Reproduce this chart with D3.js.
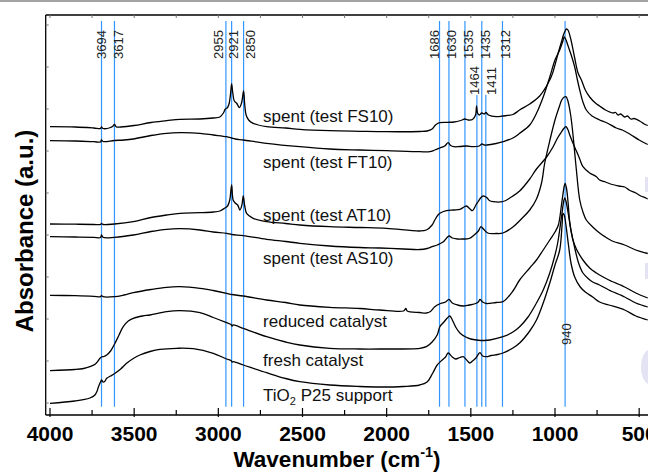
<!DOCTYPE html>
<html lang="en">
<head>
<meta charset="UTF-8">
<title>FTIR spectra</title>
<style>
  body { margin: 0; padding: 0; background: #fff; }
  svg { display: block; font-family: 'Liberation Sans', Arial, sans-serif; }
  .spec { fill: none; stroke: #000; stroke-width: 1.3px; stroke-linejoin: round; }
  .band { stroke: #3396ff; stroke-width: 1.2px; }
  .band-label { font-size: 13px; fill: #222; }
  .spec-label { font-size: 17px; fill: #111; }
  .tick-label { font-size: 21px; font-weight: bold; fill: #000; }
  .axis-title { font-size: 22.5px; font-weight: bold; fill: #000; }
</style>
</head>
<body>
<svg width="648" height="472"></svg>
<script src="https://d3js.org/d3.v7.min.js"></script>
<script>
// spectra, [wavenumber (cm-1), absorbance (a.u., offset stacked)]
const fs10 = [[4000,288.3],[3850,288],[3740,287],[3700,286.5],[3694,288],[3685,286.5],[3640,287.5],[3625,289],[3617,290.5],[3605,288],[3580,288],[3500,289.5],[3400,292.5],[3307,294.3],[3228,295.7],[3109,296],[3030,297],[2991,298],[2970,302],[2958,306],[2945,307.5],[2935,312],[2927,322],[2921,331],[2914,322],[2905,314],[2892,312],[2875,307.5],[2862,312],[2850,324],[2843,310],[2835,300],[2820,295],[2793,291.7],[2713,288.3],[2600,287],[2516,285.7],[2338,284.3],[2159,283.7],[2001,283.3],[1803,283.5],[1760,284],[1730,286],[1710,290],[1686,292.3],[1640,292.7],[1600,293],[1560,294.5],[1535,296],[1515,295],[1490,295.5],[1472,300],[1466,309],[1460,302],[1450,300],[1435,302],[1420,301],[1411,302.5],[1395,300],[1350,298.3],[1312,299],[1250,300.5],[1210,305],[1150,311],[1091,319],[1031,335],[1012,343],[981,362],[962,373],[950,380],[940,384],[932,386],[926,385.5],[920,384],[905,375],[883,357],[863,342],[843,335],[820,325],[794,318],[760,312],[735,309],[700,305],[655,302],[640,302.5],[625,300],[610,301],[586,298],[570,299],[550,296],[530,296.5],[497,294],[470,291],[449,289.5]];
const ft10 = [[4000,274.3],[3850,274],[3740,273.3],[3700,273],[3694,275],[3685,273.5],[3617,274.5],[3560,275],[3505,276],[3400,279.5],[3307,281.7],[3228,282.3],[3109,281.7],[3030,280],[2951,278.3],[2921,277],[2900,276],[2852,275],[2713,271.7],[2516,268.3],[2338,266],[2159,265],[2001,264.3],[1803,263.3],[1744,263.3],[1714,265],[1684,267],[1655,269],[1635,272.3],[1620,269.5],[1600,268.3],[1565,268.5],[1526,269],[1486,268.3],[1450,269],[1434,271],[1420,270],[1406,270],[1350,271.5],[1309,273.3],[1250,277],[1210,281.7],[1150,290],[1110,301.7],[1070,318],[1031,338],[1000,355],[972,365],[955,373],[945,378],[937,376],[920,368],[900,358],[883,348],[868,336],[853,325],[834,313],[814,305],[780,299],[735,295],[690,292],[636,287],[600,285],[556,281],[500,275],[449,270.5]];
const at10 = [[4000,191],[3850,190.8],[3740,190.5],[3700,190.5],[3694,191.5],[3685,190.5],[3617,191],[3505,193.3],[3400,197.5],[3307,200],[3228,201.7],[3109,202.3],[3030,203],[2991,204],[2961,207],[2945,209],[2932,215],[2921,230],[2912,215],[2900,212],[2885,210],[2872,205],[2860,210],[2852,219],[2843,209],[2832,201.7],[2793,196.7],[2713,193.3],[2600,191.5],[2516,190],[2338,188.3],[2159,187.5],[2001,186.7],[1803,184],[1764,185],[1730,190],[1714,195],[1695,200],[1684,201.7],[1645,204.3],[1600,205],[1565,205.7],[1540,208],[1526,209],[1505,206],[1490,204.3],[1470,210],[1456,213.5],[1440,217.5],[1426,219],[1406,217.5],[1390,214.5],[1368,213.3],[1312,213.3],[1250,219],[1210,224],[1150,236],[1110,246],[1050,258],[1012,268],[985,277],[962,283],[945,287],[935,288.3],[925,286],[910,279],[893,271.7],[873,264],[853,256],[834,248.3],[794,242],[754,238.3],[735,235],[700,233],[660,230.5],[620,229],[586,228],[560,225],[520,222],[490,219],[460,217],[449,216]];
const as10 = [[4000,178.3],[3850,178],[3740,177.7],[3700,177.5],[3694,180],[3685,177.7],[3617,177.7],[3505,180],[3400,183.5],[3307,185.7],[3228,186.3],[3109,185],[3030,183],[2951,181.7],[2921,180.5],[2852,179.3],[2713,175.7],[2600,173.5],[2516,171.7],[2338,169],[2159,167.5],[2041,167],[1900,166],[1803,165.5],[1760,166.5],[1730,168.3],[1700,170],[1665,173],[1630,179],[1610,177],[1580,176],[1546,176],[1510,176.5],[1480,180],[1455,184],[1440,188.3],[1425,186],[1400,182],[1350,181.5],[1309,182],[1250,188],[1200,196],[1150,205],[1110,216],[1080,232],[1061,252],[1030,275],[1000,295],[975,308],[960,315],[945,318],[935,318.3],[925,315],[907,300],[890,275],[873,245],[853,215],[834,203],[814,195],[776,188],[735,182],[700,178],[660,174],[586,170],[520,165],[460,162],[449,161.5]];
const reduced = [[4000,119.7],[3850,119.3],[3740,118.7],[3700,118.3],[3694,119.5],[3685,118.3],[3617,118.3],[3560,120],[3505,122.3],[3400,125.5],[3307,127.7],[3228,128.3],[3109,126.7],[3030,124.5],[2951,121.7],[2921,120.5],[2852,119],[2713,115],[2600,112.5],[2516,110],[2338,107.7],[2159,106.5],[2041,105],[1900,104],[1886,106.5],[1878,104],[1803,102.5],[1764,102],[1740,103.5],[1714,108.3],[1680,111.5],[1650,113],[1630,115.7],[1610,112],[1580,110],[1546,109],[1510,110],[1480,111],[1455,113],[1446,115.7],[1430,113],[1405,111.5],[1387,111.7],[1350,112.5],[1309,113.3],[1250,124],[1210,135],[1150,147],[1110,155],[1070,165],[1031,175],[1000,183],[980,190],[960,212],[945,229],[940,231.7],[932,227],[922,212],[912,192],[895,176],[873,166],[834,155],[794,147],[754,142],[735,140],[680,135],[586,128],[520,122],[449,117]];
const fresh = [[4000,44.3],[3852,45.5],[3800,46.5],[3763,48.3],[3730,51],[3703,56.7],[3694,58],[3680,58.5],[3663,60],[3640,64],[3614,71.7],[3590,80],[3565,88.3],[3535,94],[3505,96.7],[3450,99],[3406,100],[3307,103.3],[3228,104.3],[3109,102.3],[3030,97.5],[2951,92.3],[2925,90.5],[2918,89],[2912,90],[2852,86.7],[2713,78.3],[2600,73],[2516,70],[2338,66.7],[2159,66],[2041,66],[1803,66.7],[1764,68.3],[1730,73],[1700,80],[1684,88.3],[1660,93],[1640,97],[1625,99],[1610,95],[1590,88],[1565,82],[1530,78],[1500,76],[1466,75],[1420,74.5],[1387,75],[1309,78.3],[1250,83],[1210,88.3],[1160,98],[1110,112],[1070,125],[1031,142],[1000,160],[984,172],[960,200],[948,214],[942,217],[935,214],[920,200],[905,185],[880,165],[860,152],[834,142],[800,136],[776,133],[735,130],[680,125],[586,118],[520,112],[449,108]];
const tio2 = [[4000,11.7],[3852,14],[3763,17],[3733,20],[3720,24],[3712,28.3],[3700,33],[3694,35],[3685,33],[3675,33.5],[3663,36.7],[3640,39],[3614,41.7],[3580,46],[3545,51.7],[3505,56.5],[3466,60],[3406,63.5],[3347,65.7],[3248,66.7],[3149,66.3],[3030,61.7],[2951,56],[2925,54.5],[2918,53],[2912,53.3],[2852,50],[2713,42.3],[2600,36.5],[2516,33.3],[2338,30],[2159,28.5],[2041,28],[1900,28.5],[1803,30],[1760,33],[1726,42],[1700,50],[1670,55],[1650,58],[1635,62],[1610,58],[1590,56],[1565,57.5],[1546,58.3],[1530,56],[1506,52],[1490,54],[1470,57],[1446,62.3],[1430,59],[1406,58.3],[1380,59.5],[1340,60.5],[1309,62],[1250,67],[1210,72],[1150,84],[1110,95],[1070,112],[1031,132],[1000,150],[972,165],[958,190],[952,201.7],[945,200],[935,190],[920,170],[905,152],[883,138],[850,128],[820,123],[776,118],[735,113],[680,110],[586,105],[520,99],[449,95]];

const spectra = [fs10, ft10, at10, as10, reduced, fresh, tio2];
const specNames = ["spent (test FS10)", "spent (test FT10)", "spent (test AT10)", "spent (test AS10)", "reduced catalyst", "fresh catalyst", "TiO2 P25 support"];

// assigned bands (cm-1)
const bandWn = [3694, 3617, 2955, 2921, 2850, 1686, 1630, 1535, 1464, 1435, 1411, 1312, 940];

const xMajor = [4000, 3500, 3000, 2500, 2000, 1500, 1000, 500];
const xMinor = [3750, 3250, 2750, 2250, 1750, 1250, 750];

// layout
const W = 648, H = 472;
const plot = {left: 45.7, right: 656, top: 15, bottom: 415};
const specLabelWn = 2734;
const specLabelY = [293, 247, 194, 151, 88, 49, 14];
const bandDx = [4.5, 8.8, -3.3, 6.6, 11.3, -0.4, 7.5, 8.1, 2.2, 8.7, 10.6, 8, 6.3];
const bandTop = [394, 394, 394, 394, 394, 394, 394, 394, 320, 394, 320, 394, 394];
const bandLabelStart = [356, 356, 356, 356, 356, 356, 356, 356, 320, 356, 320, 356, 70];

const svg = d3.select("svg");

const x = d3.scaleLinear().domain([4025.5, 400]).range([plot.left, plot.right]);
const y = d3.scaleLinear().domain([0, 400]).range([plot.bottom, plot.top]);

svg.append("rect").attr("x", 0).attr("y", 0).attr("width", W).attr("height", 2).attr("fill", "#a3a3a3");

svg.append("defs").append("clipPath").attr("id", "clip")
  .append("rect").attr("x", plot.left).attr("y", plot.top)
  .attr("width", plot.right - plot.left).attr("height", plot.bottom - plot.top);

// band lines
const bands = svg.append("g");
bands.selectAll("line")
  .data(bandWn)
  .enter().append("line")
  .attr("class", "band")
  .attr("x1", d => x(d)).attr("x2", d => x(d))
  .attr("y1", (d, i) => y(bandTop[i]))
  .attr("y2", y(8.3));

bands.selectAll("text")
  .data(bandWn)
  .enter().append("text")
  .attr("class", "band-label")
  .attr("transform", (d, i) => `translate(${x(d) + bandDx[i]},${y(bandLabelStart[i])}) rotate(-90)`)
  .text(d => d);

// spectra
const line = d3.line()
  .x(d => x(d[0]))
  .y(d => y(d[1]))
  .curve(d3.curveCatmullRom.alpha(0.5));

svg.append("g").attr("clip-path", "url(#clip)")
  .selectAll("path")
  .data(spectra)
  .enter().append("path")
  .attr("class", "spec")
  .attr("d", line);

// spectrum labels
const labels = svg.append("g");
specNames.forEach((name, i) => {
  const t = labels.append("text")
    .attr("class", "spec-label")
    .attr("x", x(specLabelWn))
    .attr("y", y(specLabelY[i]));
  if (name.startsWith("TiO2")) {
    t.append("tspan").text("TiO");
    t.append("tspan").attr("font-size", "11px").attr("dy", 4).text("2");
    t.append("tspan").attr("dy", -4).text(name.slice(4));
  } else {
    t.text(name);
  }
});

// frame
const frame = svg.append("g").attr("stroke", "#000").attr("stroke-width", 1.3);
frame.append("line").attr("x1", plot.left).attr("x2", W).attr("y1", plot.top).attr("y2", plot.top);
frame.append("line").attr("x1", plot.left).attr("x2", plot.left).attr("y1", plot.top).attr("y2", plot.bottom);
frame.append("line").attr("x1", plot.left).attr("x2", W).attr("y1", plot.bottom).attr("y2", plot.bottom);

// bottom ticks
const ticks = svg.append("g").attr("stroke", "#000").attr("stroke-width", 1.2);
ticks.selectAll(".maj").data(xMajor).enter().append("line")
  .attr("x1", d => x(d)).attr("x2", d => x(d))
  .attr("y1", plot.bottom - 7).attr("y2", plot.bottom + 2);
ticks.selectAll(".min").data(xMinor).enter().append("line")
  .attr("x1", d => x(d)).attr("x2", d => x(d))
  .attr("y1", plot.bottom - 5).attr("y2", plot.bottom);
// faint top and left ticks
const faint = svg.append("g").attr("stroke", "#777").attr("stroke-width", 1);
faint.selectAll(".top").data(xMajor.concat(xMinor)).enter().append("line")
  .attr("x1", d => x(d)).attr("x2", d => x(d))
  .attr("y1", plot.top).attr("y2", plot.top + 3);
faint.selectAll(".left").data(d3.range(12, 400, 42)).enter().append("line")
  .attr("x1", plot.left).attr("x2", plot.left + 3)
  .attr("y1", d => y(d)).attr("y2", d => y(d));

svg.append("g").selectAll("text")
  .data(xMajor)
  .enter().append("text")
  .attr("class", "tick-label")
  .attr("x", d => x(d))
  .attr("y", 441)
  .attr("text-anchor", "middle")
  .text(d => d);

// axis titles
const xt = svg.append("text").attr("class", "axis-title")
  .attr("x", 337).attr("y", 467).attr("text-anchor", "middle");
xt.append("tspan").text("Wavenumber (cm");
xt.append("tspan").attr("font-size", "14.5px").attr("dy", -10).text("-1");
xt.append("tspan").attr("dy", 10).text(")");

svg.append("text").attr("class", "axis-title")
  .attr("transform", "translate(33,231) rotate(-90)")
  .attr("text-anchor", "middle")
  .style("font-size", "24px")
  .text("Absorbance (a.u.)");

// scan artefacts at the right edge
const art = svg.append("g").attr("fill", "#e3e3f3");
art.append("rect").attr("x", 645).attr("y", 177).attr("width", 3).attr("height", 15);
art.append("rect").attr("x", 645).attr("y", 263).attr("width", 3).attr("height", 16);
art.append("ellipse").attr("cx", 651).attr("cy", 367).attr("rx", 10).attr("ry", 18);
</script>
</body>
</html>
